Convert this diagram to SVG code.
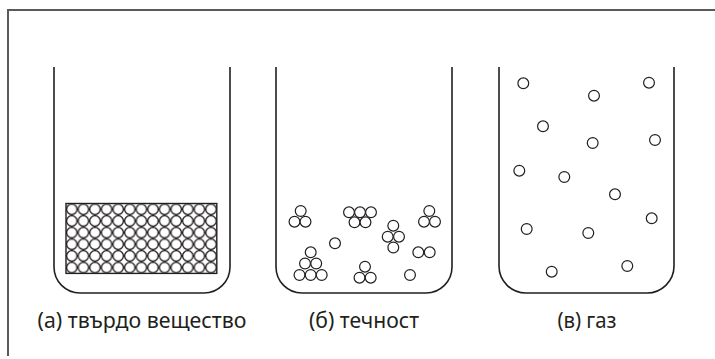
<svg xmlns="http://www.w3.org/2000/svg" width="715" height="359" viewBox="0 0 715 359">
  <defs>
    <style>
      .frame { fill: none; stroke: #5a5a5a; stroke-width: 2; }
      .beaker { fill: none; stroke: #231f20; stroke-width: 1.6; }
      .p { fill: #fff; stroke: #231f20; stroke-width: 1.2; }
      .lbl { font-family: "Noto Sans", "Open Sans", sans-serif; font-size: 21px; fill: #231f20; text-anchor: middle; }
    </style>
    <circle id="m" r="5.4" class="p"/>
    <pattern id="lattice" x="66" y="203.5" width="11.6" height="11.65" patternUnits="userSpaceOnUse">
      <circle cx="5.8" cy="5.825" r="5.2" fill="#fff" stroke="#231f20" stroke-width="1.3"/>
    </pattern>
  </defs>
  <rect width="715" height="359" fill="#fff"/>
  <path class="frame" d="M8,356 V10 H715"/>

  <!-- (а) solid -->
  <g id="solid">
    <path class="beaker" d="M54,67 V267 A26,26 0 0 0 80,293 H204 A26,26 0 0 0 230,267 V67"/>
    <rect x="66" y="203.5" width="150.8" height="69.9" fill="url(#lattice)" stroke="#231f20" stroke-width="1.4"/>
    <text class="lbl" x="142" y="327.5" textLength="209" lengthAdjust="spacingAndGlyphs">(а) твърдо вещество</text>
  </g>

  <!-- (б) liquid -->
  <g id="liquid">
    <path class="beaker" d="M276,67 V267 A26,26 0 0 0 302,293 H426 A26,26 0 0 0 452,267 V67"/>
    <use href="#m" x="300.7" y="211"/><use href="#m" x="294.5" y="221.7"/><use href="#m" x="305.5" y="221.7"/>
    <use href="#m" x="349" y="212.3"/><use href="#m" x="360" y="212.3"/><use href="#m" x="371" y="212.3"/>
    <use href="#m" x="354.5" y="222.3"/><use href="#m" x="365.5" y="222.3"/>
    <use href="#m" x="429.3" y="211"/><use href="#m" x="424" y="221.7"/><use href="#m" x="435" y="221.7"/>
    <use href="#m" x="393.3" y="225.7"/><use href="#m" x="387.7" y="236.7"/><use href="#m" x="399" y="236.7"/><use href="#m" x="393.3" y="247.5"/>
    <use href="#m" x="335" y="243.3"/>
    <use href="#m" x="418.3" y="252.3"/><use href="#m" x="429.7" y="252.3"/>
    <use href="#m" x="310.7" y="252.3"/><use href="#m" x="305" y="263.5"/><use href="#m" x="316.2" y="263.5"/>
    <use href="#m" x="299.5" y="275"/><use href="#m" x="310.7" y="275"/><use href="#m" x="321.7" y="275"/>
    <use href="#m" x="365" y="266.7"/><use href="#m" x="359.5" y="277.7"/><use href="#m" x="370.7" y="277.7"/>
    <use href="#m" x="410" y="275"/>
    <text class="lbl" x="364" y="327.5" textLength="110" lengthAdjust="spacingAndGlyphs">(б) течност</text>
  </g>

  <!-- (в) gas -->
  <g id="gas">
    <path class="beaker" d="M499,67 V266 A27,27 0 0 0 526,293 H647 A27,27 0 0 0 674,266 V67"/>
    <use href="#m" x="523.3" y="83.3"/><use href="#m" x="649" y="82.7"/><use href="#m" x="594" y="95.7"/>
    <use href="#m" x="543" y="126.3"/><use href="#m" x="592.7" y="143"/><use href="#m" x="655" y="140"/>
    <use href="#m" x="519.3" y="170.7"/><use href="#m" x="564.3" y="177"/><use href="#m" x="615" y="194.3"/>
    <use href="#m" x="651.7" y="218.3"/><use href="#m" x="526.7" y="229"/><use href="#m" x="588.3" y="233"/>
    <use href="#m" x="627.3" y="266"/><use href="#m" x="551.7" y="271.7"/>
    <text class="lbl" x="587" y="327.5" textLength="59" lengthAdjust="spacingAndGlyphs">(в) газ</text>
  </g>
</svg>
